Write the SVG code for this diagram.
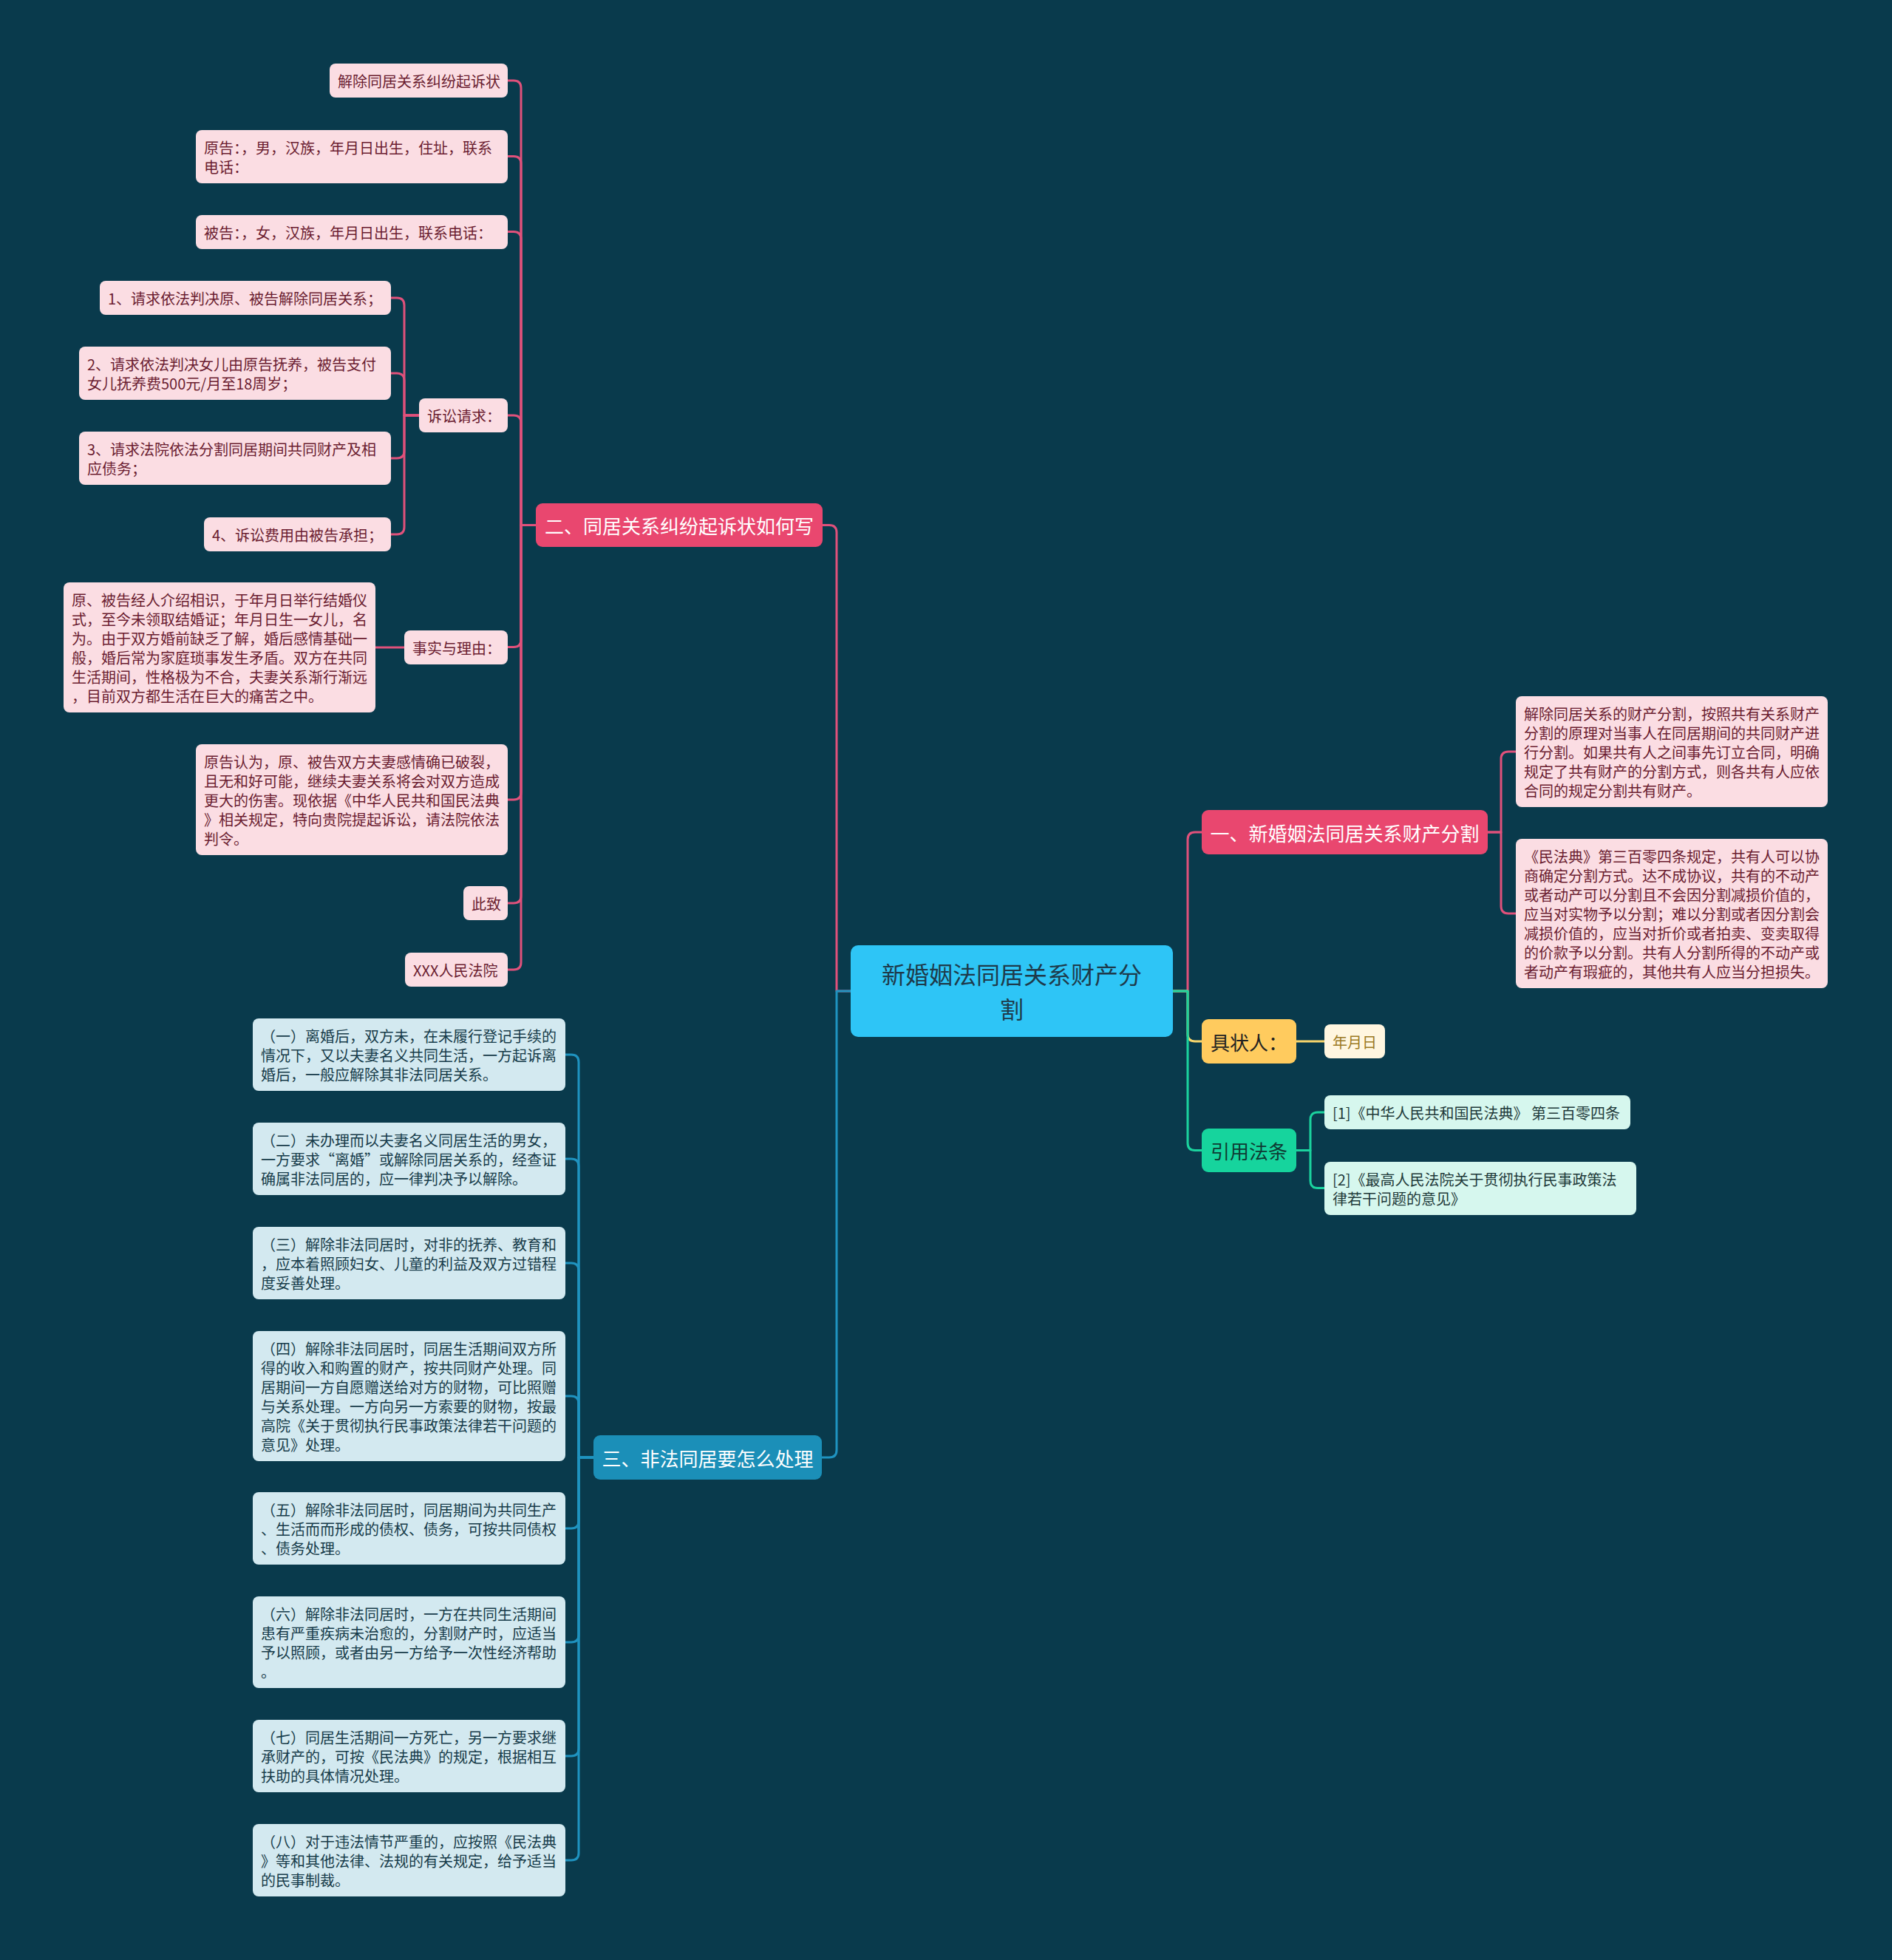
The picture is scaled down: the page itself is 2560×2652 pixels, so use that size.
<svg xmlns="http://www.w3.org/2000/svg" width="2560" height="2652" viewBox="0 0 2560 2652">
<style>
text{font-family:"Noto Sans CJK SC","Noto Sans",sans-serif;dominant-baseline:central}
.c{fill:none;stroke-width:3;stroke-linecap:round;stroke-linejoin:round}
.cp{stroke:#e0517b}.cb{stroke:#1f93c0}.cg{stroke:#1bd39e}.cy{stroke:#f7d56c}
.pk{fill:#fbdde3}.pt{fill:#6b1d31;font-size:20px}
.bl{fill:#d3e9f0}.bt{fill:#173c4a;font-size:20px}
.mn{font-size:26px;fill:#ffffff;text-anchor:middle}
.mid{text-anchor:middle}
</style>
<rect x="0" y="0" width="2560" height="2652" fill="#093a4c"/>
<g id="connectors">
<path class="c cp" d="M1587,1341 H1607 V1136 Q1607,1126 1617,1126 H1626"/>
<path class="c cy" d="M1587,1341 H1607 V1399 Q1607,1409 1617,1409 H1626"/>
<path class="c cg" d="M1587,1341 H1607 V1546.5 Q1607,1556.5 1617,1556.5 H1626"/>
<path class="c cp" d="M1151,1341 H1132 V720.5 Q1132,710.5 1122,710.5 H1113"/>
<path class="c cb" d="M1151,1341 H1132 V1962 Q1132,1972 1122,1972 H1112"/>
<path class="c cp" d="M2013,1126 H2031 V1027 Q2031,1017 2041,1017 H2051"/>
<path class="c cp" d="M2013,1126 H2031 V1226 Q2031,1236 2041,1236 H2051"/>
<path class="c cy" d="M1754,1409 H1792"/>
<path class="c cg" d="M1754,1556.5 H1773 V1515 Q1773,1505 1783,1505 H1792"/>
<path class="c cg" d="M1754,1556.5 H1773 V1597.5 Q1773,1607.5 1783,1607.5 H1792"/>
<path class="c cp" d="M725,710.5 H705 V119 Q705,109 695,109 H687"/>
<path class="c cp" d="M725,710.5 H705 V221.5 Q705,211.5 695,211.5 H687"/>
<path class="c cp" d="M725,710.5 H705 V323.5 Q705,313.5 695,313.5 H687"/>
<path class="c cp" d="M725,710.5 H705 V572 Q705,562 695,562 H687"/>
<path class="c cp" d="M725,710.5 H705 V865.5 Q705,875.5 695,875.5 H687"/>
<path class="c cp" d="M725,710.5 H705 V1072 Q705,1082 695,1082 H687"/>
<path class="c cp" d="M725,710.5 H705 V1212 Q705,1222 695,1222 H687"/>
<path class="c cp" d="M725,710.5 H705 V1302 Q705,1312 695,1312 H687"/>
<path class="c cp" d="M567,562 H547 V413 Q547,403 537,403 H529"/>
<path class="c cp" d="M567,562 H547 V515 Q547,505 537,505 H529"/>
<path class="c cp" d="M567,562 H547 V610 Q547,620 537,620 H529"/>
<path class="c cp" d="M567,562 H547 V713 Q547,723 537,723 H529"/>
<path class="c cp" d="M547,876 H508"/>
<path class="c cb" d="M803,1972 H783 V1437 Q783,1427 773,1427 H765"/>
<path class="c cb" d="M803,1972 H783 V1578 Q783,1568 773,1568 H765"/>
<path class="c cb" d="M803,1972 H783 V1719 Q783,1709 773,1709 H765"/>
<path class="c cb" d="M803,1972 H783 V1899 Q783,1889 773,1889 H765"/>
<path class="c cb" d="M803,1972 H783 V2058 Q783,2068 773,2068 H765"/>
<path class="c cb" d="M803,1972 H783 V2212 Q783,2222 773,2222 H765"/>
<path class="c cb" d="M803,1972 H783 V2366 Q783,2376 773,2376 H765"/>
<path class="c cb" d="M803,1972 H783 V2507 Q783,2517 773,2517 H765"/>
</g>
<g id="root">
<rect x="1151" y="1279" width="436" height="124" rx="10" fill="#2ec5f6"/>
<text class="mid" font-size="32" fill="#1e3a4a"><tspan x="1369" y="1317">新婚姻法同居关系财产分</tspan><tspan x="1369" y="1364">割</tspan></text>
</g>
<g id="b1">
<rect x="1626" y="1096" width="387" height="60" rx="9" fill="#e9476f"/>
<text x="1819.5" y="1126" class="mn">一、新婚姻法同居关系财产分割</text>
</g>
<g id="b1c1">
<rect x="2051" y="942" width="422" height="150" rx="8" class="pk"/>
<text class="pt" x="2062" y="965">解除同居关系的财产分割，按照共有关系财产</text>
<text class="pt" x="2062" y="991">分割的原理对当事人在同居期间的共同财产进</text>
<text class="pt" x="2062" y="1017">行分割。如果共有人之间事先订立合同，明确</text>
<text class="pt" x="2062" y="1043">规定了共有财产的分割方式，则各共有人应依</text>
<text class="pt" x="2062" y="1069">合同的规定分割共有财产。</text>
</g>
<g id="b1c2">
<rect x="2051" y="1135" width="422" height="202" rx="8" class="pk"/>
<text class="pt" x="2062" y="1158">《民法典》第三百零四条规定，共有人可以协</text>
<text class="pt" x="2062" y="1184">商确定分割方式。达不成协议，共有的不动产</text>
<text class="pt" x="2062" y="1210">或者动产可以分割且不会因分割减损价值的，</text>
<text class="pt" x="2062" y="1236">应当对实物予以分割；难以分割或者因分割会</text>
<text class="pt" x="2062" y="1262">减损价值的，应当对折价或者拍卖、变卖取得</text>
<text class="pt" x="2062" y="1288">的价款予以分割。共有人分割所得的不动产或</text>
<text class="pt" x="2062" y="1314">者动产有瑕疵的，其他共有人应当分担损失。</text>
</g>
<g id="b4">
<rect x="1626" y="1379" width="128" height="60" rx="9" fill="#ffcb5e"/>
<text x="1690" y="1409" class="mid" font-size="26" fill="#222222">具状人：</text>
</g>
<g id="b4c1">
<rect x="1792" y="1386" width="82" height="46" rx="8" fill="#fff6e0"/>
<text x="1833" y="1409" class="mid" font-size="20" fill="#9b7a24">年月日</text>
</g>
<g id="b5">
<rect x="1626" y="1527" width="128" height="59" rx="9" fill="#16d49d"/>
<text x="1690" y="1556.5" class="mid" font-size="26" fill="#0e3b33">引用法条</text>
</g>
<g id="b5c1">
<rect x="1792" y="1482" width="414" height="46" rx="8" fill="#d6f7ee"/>
<text x="1803" y="1505" font-size="20" fill="#1f3a3a">[1]《中华人民共和国民法典》 第三百零四条</text>
</g>
<g id="b5c2">
<rect x="1792" y="1572" width="422" height="72" rx="8" fill="#d6f7ee"/>
<text x="1803" y="1595" font-size="20" fill="#1f3a3a">[2]《最高人民法院关于贯彻执行民事政策法</text>
<text x="1803" y="1621" font-size="20" fill="#1f3a3a">律若干问题的意见》</text>
</g>
<g id="b2">
<rect x="725" y="681" width="388" height="59" rx="9" fill="#e9476f"/>
<text x="919" y="710.5" class="mn">二、同居关系纠纷起诉状如何写</text>
</g>
<g id="b2c1">
<rect x="446" y="86" width="241" height="46" rx="8" class="pk"/>
<text class="pt" x="457" y="109">解除同居关系纠纷起诉状</text>
</g>
<g id="b2c2">
<rect x="265" y="176" width="422" height="72" rx="8" class="pk"/>
<text class="pt" x="276" y="199">原告：，男，汉族，年月日出生，住址，联系</text>
<text class="pt" x="276" y="225">电话：</text>
</g>
<g id="b2c3">
<rect x="265" y="291" width="422" height="46" rx="8" class="pk"/>
<text class="pt" x="276" y="314">被告：，女，汉族，年月日出生，联系电话：</text>
</g>
<g id="b2c4">
<rect x="567" y="539" width="120" height="46" rx="8" class="pk"/>
<text class="pt" x="578" y="562">诉讼请求：</text>
</g>
<g id="b2c4c1">
<rect x="135" y="380" width="394" height="46" rx="8" class="pk"/>
<text class="pt" x="146" y="403">1、请求依法判决原、被告解除同居关系；</text>
</g>
<g id="b2c4c2">
<rect x="107" y="469" width="422" height="72" rx="8" class="pk"/>
<text class="pt" x="118" y="492">2、请求依法判决女儿由原告抚养，被告支付</text>
<text class="pt" x="118" y="518">女儿抚养费500元/月至18周岁；</text>
</g>
<g id="b2c4c3">
<rect x="107" y="584" width="422" height="72" rx="8" class="pk"/>
<text class="pt" x="118" y="607">3、请求法院依法分割同居期间共同财产及相</text>
<text class="pt" x="118" y="633">应债务；</text>
</g>
<g id="b2c4c4">
<rect x="276" y="700" width="253" height="46" rx="8" class="pk"/>
<text class="pt" x="287" y="723">4、诉讼费用由被告承担；</text>
</g>
<g id="b2c5">
<rect x="547" y="853" width="140" height="46" rx="8" class="pk"/>
<text class="pt" x="558" y="876">事实与理由：</text>
</g>
<g id="b2c5c1">
<rect x="86" y="788" width="422" height="176" rx="8" class="pk"/>
<text class="pt" x="97" y="811">原、被告经人介绍相识，于年月日举行结婚仪</text>
<text class="pt" x="97" y="837">式，至今未领取结婚证；年月日生一女儿，名</text>
<text class="pt" x="97" y="863">为。由于双方婚前缺乏了解，婚后感情基础一</text>
<text class="pt" x="97" y="889">般，婚后常为家庭琐事发生矛盾。双方在共同</text>
<text class="pt" x="97" y="915">生活期间，性格极为不合，夫妻关系渐行渐远</text>
<text class="pt" x="97" y="941">，目前双方都生活在巨大的痛苦之中。</text>
</g>
<g id="b2c6">
<rect x="265" y="1007" width="422" height="150" rx="8" class="pk"/>
<text class="pt" x="276" y="1030">原告认为，原、被告双方夫妻感情确已破裂，</text>
<text class="pt" x="276" y="1056">且无和好可能，继续夫妻关系将会对双方造成</text>
<text class="pt" x="276" y="1082">更大的伤害。现依据《中华人民共和国民法典</text>
<text class="pt" x="276" y="1108">》相关规定，特向贵院提起诉讼，请法院依法</text>
<text class="pt" x="276" y="1134">判令。</text>
</g>
<g id="b2c7">
<rect x="627" y="1199" width="60" height="46" rx="8" class="pk"/>
<text class="pt" x="638" y="1222">此致</text>
</g>
<g id="b2c8">
<rect x="548" y="1289" width="139" height="46" rx="8" class="pk"/>
<text class="pt" x="559" y="1312">XXX人民法院</text>
</g>
<g id="b3">
<rect x="803" y="1942" width="309" height="60" rx="9" fill="#1b8fb8"/>
<text x="957.5" y="1972" class="mn">三、非法同居要怎么处理</text>
</g>
<g id="b3c1">
<rect x="342" y="1378" width="423" height="98" rx="8" class="bl"/>
<text class="bt" x="353" y="1401">（一）离婚后，双方未，在未履行登记手续的</text>
<text class="bt" x="353" y="1427">情况下，又以夫妻名义共同生活，一方起诉离</text>
<text class="bt" x="353" y="1453">婚后，一般应解除其非法同居关系。</text>
</g>
<g id="b3c2">
<rect x="342" y="1519" width="423" height="98" rx="8" class="bl"/>
<text class="bt" x="353" y="1542">（二）未办理而以夫妻名义同居生活的男女，</text>
<text class="bt" x="353" y="1568">一方要求“离婚”或解除同居关系的，经查证</text>
<text class="bt" x="353" y="1594">确属非法同居的，应一律判决予以解除。</text>
</g>
<g id="b3c3">
<rect x="342" y="1660" width="423" height="98" rx="8" class="bl"/>
<text class="bt" x="353" y="1683">（三）解除非法同居时，对非的抚养、教育和</text>
<text class="bt" x="353" y="1709">，应本着照顾妇女、儿童的利益及双方过错程</text>
<text class="bt" x="353" y="1735">度妥善处理。</text>
</g>
<g id="b3c4">
<rect x="342" y="1801" width="423" height="176" rx="8" class="bl"/>
<text class="bt" x="353" y="1824">（四）解除非法同居时，同居生活期间双方所</text>
<text class="bt" x="353" y="1850">得的收入和购置的财产，按共同财产处理。同</text>
<text class="bt" x="353" y="1876">居期间一方自愿赠送给对方的财物，可比照赠</text>
<text class="bt" x="353" y="1902">与关系处理。一方向另一方索要的财物，按最</text>
<text class="bt" x="353" y="1928">高院《关于贯彻执行民事政策法律若干问题的</text>
<text class="bt" x="353" y="1954">意见》处理。</text>
</g>
<g id="b3c5">
<rect x="342" y="2019" width="423" height="98" rx="8" class="bl"/>
<text class="bt" x="353" y="2042">（五）解除非法同居时，同居期间为共同生产</text>
<text class="bt" x="353" y="2068">、生活而而形成的债权、债务，可按共同债权</text>
<text class="bt" x="353" y="2094">、债务处理。</text>
</g>
<g id="b3c6">
<rect x="342" y="2160" width="423" height="124" rx="8" class="bl"/>
<text class="bt" x="353" y="2183">（六）解除非法同居时，一方在共同生活期间</text>
<text class="bt" x="353" y="2209">患有严重疾病未治愈的，分割财产时，应适当</text>
<text class="bt" x="353" y="2235">予以照顾，或者由另一方给予一次性经济帮助</text>
<text class="bt" x="353" y="2261">。</text>
</g>
<g id="b3c7">
<rect x="342" y="2327" width="423" height="98" rx="8" class="bl"/>
<text class="bt" x="353" y="2350">（七）同居生活期间一方死亡，另一方要求继</text>
<text class="bt" x="353" y="2376">承财产的，可按《民法典》的规定，根据相互</text>
<text class="bt" x="353" y="2402">扶助的具体情况处理。</text>
</g>
<g id="b3c8">
<rect x="342" y="2468" width="423" height="98" rx="8" class="bl"/>
<text class="bt" x="353" y="2491">（八）对于违法情节严重的，应按照《民法典</text>
<text class="bt" x="353" y="2517">》等和其他法律、法规的有关规定，给予适当</text>
<text class="bt" x="353" y="2543">的民事制裁。</text>
</g>
</svg>
